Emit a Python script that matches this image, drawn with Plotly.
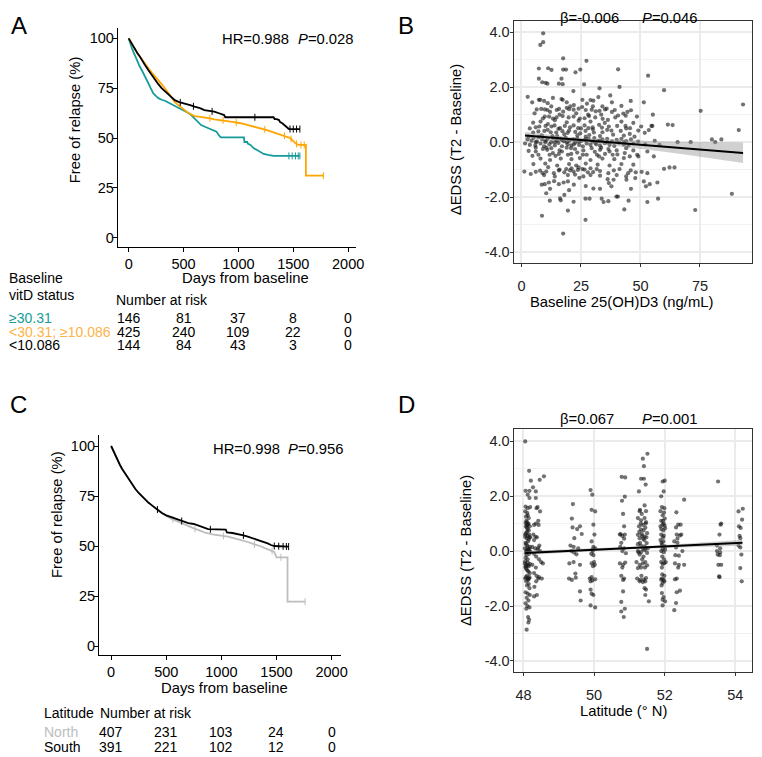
import numpy as np
import plotly.graph_objects as go

# page is shown with the default 8px body margin, so the figure is placed 8px in
OX, OY = 8, 8
FW, FH = 754, 749
FONT = "Liberation Sans, Arial, sans-serif"
FS = 14.8
FS_TABLE = 14

TEAL = "#169C98"
ORANGE = "#FFA500"
ORANGE_TXT = "#FDB448"
GREY = "#BDBDBD"

# -------------------------------------------------------------------------
# Data
# -------------------------------------------------------------------------
# A: Kaplan-Meier by baseline vitamin D (days, % free of relapse)
a_high_t = [0, 15, 30, 45, 60, 80, 100, 120, 140, 160, 180, 200, 225, 250, 270, 300, 330, 360, 390,
            420, 450, 480, 510, 540, 570, 600, 630, 660, 700, 735, 770, 800, 820, 840, 1050, 1055, 1080,
            1085, 1110, 1140, 1170, 1200, 1230, 1270, 1320, 1560]
a_high_s = [100, 97, 95, 93, 90.8, 88.5, 86, 84, 81.5, 79.5, 77.4, 75, 72.4, 71, 70, 69.2, 68.7, 67.8,
            67, 66.2, 65, 64.2, 63.5, 62.7, 61.5, 60, 58.5, 56.5, 55.5, 54.8, 54, 53.2, 51.5, 50.3, 50.3,
            48, 48, 47.2, 46.5, 44.8, 44, 43, 42, 41.5, 41, 41]
a_mid_t = [0, 20, 45, 70, 90, 120, 150, 180, 210, 240, 270, 300, 330, 360, 390, 420, 450, 480, 510,
           540, 570, 600, 640, 690, 740, 780, 840, 900, 960, 1020, 1080, 1140, 1200, 1260, 1300, 1350,
           1400, 1440, 1470, 1490, 1520, 1550, 1615, 1615, 1775]
a_mid_s = [100, 98, 95.5, 93, 91.6, 89.5, 87, 85, 82.8, 81, 79, 77, 75, 73, 70.5, 68, 66.5, 65.4, 64,
           62.7, 61.8, 61, 60.7, 60.4, 59.9, 59.4, 59, 58.7, 58, 57.4, 56.6, 55.7, 55, 54, 53.2, 52.3,
           51.5, 50.7, 50, 49, 47.3, 46.5, 46.5, 31.1, 31.1]
a_low_t = [0, 20, 40, 60, 80, 100, 120, 150, 180, 210, 240, 270, 300, 330, 360, 390, 420, 460, 510,
           560, 600, 650, 690, 740, 780, 830, 870, 880, 1320, 1330, 1350, 1370, 1380, 1400, 1430, 1460, 1560]
a_low_s = [100, 98, 96, 94, 92.5, 91, 89, 86.5, 84, 81.5, 79, 77, 75, 73.5, 72.4, 71, 69, 68, 67.4,
           66.5, 65.7, 65, 64, 63.5, 63.2, 62.3, 61.5, 60.4, 60.4, 59.5, 59.5, 59, 58, 57.4, 55.7, 54.5, 54.5]
a_high_cens = [1460, 1490, 1520, 1545, 1560]
a_mid_cens = [740, 860, 980, 1240, 1420, 1480, 1530, 1570, 1600, 1775]
a_low_cens = [470, 590, 760, 1150, 1470, 1500, 1530, 1560]

risk_days = [0, 500, 1000, 1500, 2000]
a_groups = ["≥30.31", "<30.31; ≥10.086", "<10.086"]
a_risk_high = [146, 81, 37, 8, 0]
a_risk_mid = [425, 240, 109, 22, 0]
a_risk_low = [144, 84, 43, 3, 0]

# C: Kaplan-Meier by latitude
c_north_t = [0, 20, 40, 60, 80, 100, 130, 160, 190, 220, 250, 280, 310, 340, 370, 400, 430, 460, 500,
             540, 580, 620, 660, 700, 750, 800, 860, 920, 1000, 1060, 1120, 1180, 1240, 1300, 1350, 1400,
             1440, 1480, 1500, 1600, 1600, 1760]
c_north_s = [100, 97.5, 95, 92.5, 90.5, 88.5, 86, 83.5, 80.8, 78.5, 76.5, 74.8, 73, 71.6, 70.3, 69, 67.8,
             66.5, 65, 63.8, 62.8, 61.8, 61, 59.8, 58.8, 57.8, 56.5, 55.8, 55.2, 54.7, 53.8, 53, 52, 50.8,
             50, 48.8, 48, 47, 44.3, 44.3, 22.2, 22.2]
c_south_t = [0, 20, 40, 60, 80, 100, 130, 160, 190, 220, 250, 280, 310, 340, 370, 400, 430, 460, 500,
             540, 580, 620, 660, 700, 750, 790, 830, 880, 1040, 1050, 1100, 1150, 1200, 1240, 1280, 1330,
             1380, 1420, 1450, 1480, 1610]
c_south_s = [100, 97.5, 95, 92.5, 90.5, 88.5, 86, 83.5, 80.8, 78.5, 76.5, 74.8, 73, 71.6, 70.3, 69, 67.8,
             66.5, 65.3, 64.5, 63.6, 62.8, 62.2, 61.4, 61, 60.1, 59.4, 58.4, 58.2, 56.8, 56.5, 56, 55.3,
             54.7, 54, 53.2, 52.3, 51.3, 50.5, 50, 49.7]
c_north_cens = [560, 760, 1020, 1300, 1460, 1540, 1760]
c_south_cens = [420, 640, 900, 1200, 1480, 1520, 1560, 1590, 1610]
c_groups = ["North", "South"]
c_risk_north = [407, 231, 103, 24, 0]
c_risk_south = [391, 221, 102, 12, 0]

# B: baseline 25(OH)D3 vs change in EDSS
b_top = [(9.1, 3.96), (9.1, 3.64), (7.9, 3.54), (17.5, 3.05), (27.3, 2.96), (7.3, 2.68), (11.2, 2.69),
         (12.6, 2.63), (17.5, 2.64), (18.7, 2.64), (24.7, 2.64), (22.7, 2.54), (40.6, 2.65), (53.2, 2.42),
         (7.3, 2.31), (8.7, 2.18), (10.1, 2.16), (10.9, 2.13), (15.7, 2.13), (16.8, 2.31), (17.3, 2.11),
         (26.3, 2.10), (32.8, 1.96), (41.2, 2.01), (59.9, 1.89), (2.6, 1.65), (7.3, 1.54), (7.9, 1.54),
         (13.2, 1.61), (16.8, 1.57), (21.8, 1.86), (17.3, 1.54), (25.6, 1.54), (29.0, 1.53), (30.2, 1.51),
         (32.3, 1.64), (37.3, 1.70), (45.9, 1.50), (51.4, 1.45), (75.3, 1.14), (93.1, 1.37),
         (4.5, 1.45), (9.5, 1.5), (11.0, 1.42), (19.0, 1.45), (22.0, 1.35), (27.5, 1.4), (34.0, 1.3),
         (38.0, 1.45), (42.0, 1.32), (12.5, 1.3), (20.5, 1.3), (30.0, 1.3)]
b_one = [(6.4, 1.19), (8.3, 1.21), (9.8, 1.19), (10.9, 1.17), (14.8, 1.17), (15.8, 1.21), (17.5, 1.11),
         (20.0, 1.2), (21.9, 1.18), (24.0, 1.22), (27.0, 1.17), (29.5, 1.18), (31.2, 1.12), (32.8, 1.14),
         (35.1, 1.19), (35.8, 1.22), (39.2, 1.17), (42.8, 1.04), (43.8, 0.96), (46.0, 1.16), (55.2, 1.0),
         (9.0, 0.86), (9.8, 0.93), (11.6, 0.93), (13.2, 0.86), (14.7, 0.9), (17.3, 0.95), (19.8, 0.9),
         (21.9, 0.93), (24.5, 0.86), (26.5, 0.87), (28.4, 0.95), (31.0, 0.9), (34.1, 0.85), (36.3, 0.81),
         (39.4, 0.9), (40.6, 0.97), (48.5, 0.93)]
b_half = [(4.9, 0.71), (6.0, 0.54), (7.5, 0.57), (10.1, 0.59), (11.1, 0.66), (12.6, 0.57), (13.9, 0.61),
          (16.2, 0.51), (18.2, 0.59), (20.4, 0.54), (21.9, 0.61), (23.8, 0.51), (26.5, 0.61), (28.1, 0.51),
          (29.9, 0.54), (32.6, 0.63), (33.8, 0.53), (36.7, 0.57), (40.2, 0.59), (43.7, 0.59), (45.6, 0.51),
          (50.3, 0.57), (53.5, 0.44), (54.6, 0.59), (61.5, 0.64), (63.5, 0.62), (91.3, 0.44),
          (4.9, 0.35), (7.1, 0.39), (9.6, 0.41), (12.3, 0.36), (14.6, 0.35), (17.2, 0.4), (19.4, 0.34),
          (22.6, 0.37), (24.7, 0.32), (26.9, 0.41), (30.4, 0.35), (34.0, 0.36), (37.8, 0.42), (41.7, 0.41),
          (45.5, 0.3), (49.1, 0.42), (51.8, 0.34), (55.0, 0.59)]
b_zero = [(1.5, -0.05), (2.5, 0.1), (3.5, -0.1), (4.2, 0.05), (5.0, 0.15), (5.8, -0.12), (6.5, 0.02),
          (7.2, 0.18), (8.0, -0.05), (8.7, 0.1), (9.5, -0.15), (10.2, 0.05), (11.0, 0.12), (11.7, -0.08),
          (12.5, 0.0), (13.3, 0.15), (14.0, -0.12), (14.8, 0.06), (15.5, -0.03), (16.3, 0.12), (17.0, -0.15),
          (17.8, 0.03), (18.6, 0.16), (19.4, -0.08), (20.2, 0.05), (21.0, -0.12), (21.8, 0.1), (22.6, -0.02),
          (23.4, 0.14), (24.2, -0.1), (25.0, 0.04), (25.8, -0.15), (26.6, 0.08), (27.4, -0.05), (28.2, 0.12),
          (29.0, -0.1), (29.8, 0.02), (30.6, 0.15), (31.4, -0.08), (32.2, 0.05), (33.0, -0.13), (34.0, 0.1),
          (35.0, -0.04), (36.0, 0.12), (37.0, -0.1), (38.0, 0.03), (39.0, -0.14), (40.0, 0.08), (41.0, -0.02),
          (42.0, 0.12), (43.0, -0.09), (44.0, 0.04), (45.0, -0.12), (46.0, 0.1), (47.0, -0.05), (49.0, 0.02),
          (52.0, -0.08), (56.0, 0.05), (58.0, -0.1), (65.6, 0.0), (71.1, 0.0), (80.0, 0.1), (81.4, 0.0),
          (84.0, 0.1), (3.0, 0.2), (10.5, -0.2), (15.0, 0.22), (20.8, -0.22), (27.0, 0.2), (33.5, -0.2)]
b_neg = [(3.0, -0.32), (4.6, -0.50), (6.0, -0.34), (7.1, -0.46), (10.8, -0.28), (11.8, -0.46), (13.2, -0.40),
         (14.3, -0.50), (15.7, -0.43), (17.0, -0.34), (19.5, -0.46), (20.9, -0.43), (23.4, -0.38), (25.8, -0.46),
         (27.4, -0.46), (30.8, -0.35), (31.7, -0.46), (32.6, -0.52), (35.1, -0.43), (37.0, -0.34), (38.3, -0.46),
         (40.3, -0.45), (43.4, -0.40), (45.5, -0.52), (48.6, -0.46), (49.1, -0.52), (52.9, -0.34), (55.6, -0.52),
         (1.2, -1.07), (3.9, -1.16), (6.0, -1.08), (7.8, -1.04), (8.9, -1.13), (10.4, -1.07), (11.2, -0.91),
         (13.6, -1.13), (15.7, -1.03), (18.0, -1.10), (18.8, -0.98), (20.4, -1.03), (21.9, -1.07), (23.7, -1.01),
         (25.6, -0.98), (27.9, -1.10), (30.1, -1.09), (31.6, -0.98), (36.5, -1.13), (38.8, -1.03), (41.2, -0.98),
         (44.8, -1.13), (45.9, -1.03), (48.0, -1.10), (50.5, -1.08), (52.9, -1.13), (59.9, -0.97), (62.2, -0.92),
         (64.3, -0.92),
         (8.5, -1.55), (9.8, -1.53), (11.5, -1.47), (13.7, -1.42), (15.7, -1.53), (17.7, -1.47), (19.5, -1.43),
         (24.3, -1.30), (36.2, -1.35), (36.7, -1.49), (37.8, -1.61), (38.7, -1.37), (44.1, -1.37), (47.8, -1.31),
         (51.4, -1.43), (52.3, -1.61), (53.9, -1.53), (57.1, -1.47),
         (10.4, -1.86), (11.9, -2.13), (16.2, -2.05), (16.5, -2.12), (18.0, -1.92), (21.9, -2.17), (26.9, -2.06),
         (28.6, -2.06), (30.2, -1.69), (33.7, -2.06), (34.5, -2.18), (36.5, -2.15), (39.9, -1.98), (40.5, -1.98),
         (45.0, -2.13), (52.9, -2.18), (57.4, -2.06), (88.4, -1.88),
         (8.6, -2.68), (19.5, -2.49), (43.2, -2.45), (73.0, -2.47), (26.9, -2.83), (17.5, -3.33)]
b_dense = [(5.5, 1.05), (12, 1.1), (16, 1.0), (23, 1.05), (28, 1.0), (33.5, 1.0), (38, 1.1), (44.5, 1.1),
           (19, 1.25), (25.5, 1.28), (8, 0.75), (14, 0.8), (19, 0.72), (24, 0.78), (29, 0.75), (35, 0.7),
           (42, 0.75), (47, 0.7), (11, 0.45), (15.5, 0.48), (20, 0.42), (25, 0.5), (30, 0.47), (36, 0.45),
           (44, 0.5), (3.5, 0.5), (8.5, 0.25), (13, 0.22), (18, 0.28), (23.5, 0.25), (28.5, 0.26), (33, 0.22),
           (38.5, 0.27), (43, 0.24), (47.5, 0.2), (6, -0.2), (9, -0.25), (12.5, -0.22), (16, -0.3), (19, -0.2),
           (22.5, -0.25), (26, -0.3), (29.5, -0.22), (33, -0.28), (36.5, -0.25), (40, -0.3), (44, -0.22),
           (47, -0.3), (8, -0.6), (12, -0.65), (16.5, -0.6), (21, -0.62), (24.5, -0.58), (29, -0.65), (34, -0.6),
           (39, -0.62), (43, -0.58), (5, -0.8), (10, -0.78), (15, -0.85), (20, -0.8), (23, -0.85), (27, -0.78),
           (32, -0.82), (37, -0.85), (42, -0.8), (47, -0.82), (9.5, -1.2), (14, -1.25), (19.5, -1.2),
           (22.5, -1.18), (26, -1.25), (29, -1.2), (33, -1.22), (40, -1.2), (44, -1.25), (16, -1.0), (21, -0.95),
           (24, -0.92), (26.5, -1.0), (29, -0.95), (33, -1.05), (12, -1.7), (20, -1.75), (27, -1.6), (33, -1.7),
           (46, -1.7), (22, -1.55), (14, 0.0), (19, 0.0), (24, 0.02), (31, -0.02), (36, 0.0), (43, 0.0), (6, 0.0),
           (10, 0.0), (17, 0.08), (22, -0.08), (27, 0.1), (33, 0.06)]
b_fit_x = [1.5, 10, 20, 30, 40, 50, 60, 70, 80, 93.1]
b_fit_y = [0.24, 0.181, 0.112, 0.043, -0.026, -0.095, -0.164, -0.233, -0.302, -0.392]
b_fit_lo = [0.11, 0.084, 0.034, -0.043, -0.139, -0.245, -0.354, -0.468, -0.582, -0.762]
b_fit_hi = [0.37, 0.278, 0.19, 0.129, 0.087, 0.055, 0.026, 0.002, -0.012, -0.012]

# D: latitude vs change in EDSS
d_481 = [(48.05, 3.99), (48.16, 2.92), (48.06, 2.19), (48.17, 2.19), (48.12, 2.05), (48.17, 1.93),
         (48.06, 1.62), (48.12, 1.56), (48.19, 1.6), (48.05, 1.44), (48.11, 1.38), (48.08, 1.1), (48.15, 1.2),
         (48.06, 1.02), (48.13, 0.96), (48.18, 0.9), (48.09, 0.85), (48.05, 0.6), (48.12, 0.55), (48.17, 0.5),
         (48.09, 0.47), (48.15, 0.42), (48.06, 0.3), (48.11, 0.2), (48.18, 0.15), (48.04, 0.1), (48.14, 0.05),
         (48.08, 0.0), (48.19, -0.02), (48.1, -0.05), (48.16, -0.1), (48.05, -0.38), (48.12, -0.42),
         (48.18, -0.47), (48.08, -0.5), (48.15, -0.55), (48.06, -0.6), (48.1, -0.9), (48.17, -0.95),
         (48.05, -1.0), (48.13, -1.05), (48.08, -1.1), (48.15, -1.2), (48.06, -1.5), (48.12, -1.55),
         (48.18, -1.6), (48.09, -1.7), (48.14, -1.8), (48.06, -1.9), (48.11, -2.0), (48.17, -2.05),
         (48.08, -2.1), (48.13, -2.4), (48.16, -2.5), (48.14, -2.6), (48.09, -2.86), (48.12, 0.8),
         (48.07, 0.65), (48.11, -0.7), (48.18, -0.8), (48.07, 0.9), (48.14, 1.0), (48.04, -0.45), (48.19, 0.5),
         (48.1, 0.95), (48.16, -1.0), (48.05, 0.52), (48.13, -0.52), (48.09, 0.02), (48.17, 0.08), (48.07, -0.08),
         (48.07, 0.25), (48.13, 0.35), (48.1, 0.7), (48.15, 0.75), (48.06, -0.25), (48.12, -0.3), (48.08, -0.65),
         (48.14, -0.75), (48.1, -1.25), (48.17, -1.35), (48.07, 1.25), (48.12, 1.3), (48.09, -0.15), (48.15, 0.0),
         (48.11, 0.12), (48.06, -0.55), (48.13, -1.0), (48.1, 1.05), (48.16, 0.6), (48.07, -0.95)]
d_484 = [(48.21, 2.56), (48.27, 2.32), (48.35, 2.17), (48.46, 2.59), (48.58, 2.72), (48.35, 1.93),
         (48.47, 1.44), (48.37, 1.56), (48.4, 1.6), (48.35, 1.0), (48.42, 1.1), (48.3, 0.95), (48.28, 0.6),
         (48.38, 0.5), (48.25, 0.15), (48.33, 0.1), (48.4, 0.05), (48.47, 0.0), (48.3, -0.1), (48.36, -0.2),
         (48.44, -0.3), (48.5, -0.4), (48.55, -0.45), (48.3, -0.8), (48.37, -0.9), (48.44, -0.95), (48.52, -1.0),
         (48.36, -1.1), (48.31, -1.3), (48.38, -1.6), (48.3, -1.65), (48.42, 0.12), (48.25, -0.5), (48.34, 0.52),
         (48.43, 0.95), (48.35, -0.6), (48.42, -1.0), (48.3, 0.4), (48.45, 0.2)]
d_495 = [(49.4, 1.71), (49.37, 1.18), (49.39, 0.86), (49.44, 0.47), (49.6, 0.9), (49.65, 0.62), (49.52, 0.8),
         (49.33, 0.2), (49.42, 0.15), (49.55, 0.1), (49.3, -0.45), (49.42, -0.4), (49.6, -0.5), (49.29, -1.0),
         (49.37, -1.05), (49.48, -0.97), (49.6, -1.47), (49.62, -1.8), (49.47, -0.82), (49.36, 0.0),
         (49.43, -0.05), (49.5, -0.12)]
d_500 = [(49.9, 2.22), (49.95, 2.05), (49.93, 1.5), (50.03, 1.44), (49.98, 0.96), (50.01, 0.6), (49.93, 0.35),
         (49.98, 0.15), (50.03, 0.1), (49.92, -0.1), (49.98, -0.15), (49.93, -0.45), (50.0, -0.4), (49.88, -1.0),
         (49.95, -1.07), (50.03, -1.03), (49.9, -1.1), (49.9, -1.4), (49.93, -1.55), (49.98, -1.6), (49.9, -1.98),
         (50.03, -2.05), (49.96, 0.0), (50.02, -0.5), (49.95, 0.05), (49.97, -0.55), (49.93, -0.95)]
d_508 = [(50.78, 2.7), (50.88, 2.68), (50.87, 1.98), (50.79, 1.83), (50.82, 1.35), (50.85, 0.9), (50.73, 0.6),
         (50.8, 0.55), (50.87, 0.6), (50.77, 0.3), (50.74, 0.15), (50.85, 0.1), (50.73, -0.45), (50.82, -0.5),
         (50.88, -0.42), (50.77, -0.9), (50.85, -1.0), (50.82, -1.05), (50.82, -1.47), (50.77, -1.85),
         (50.77, -2.2), (50.87, -2.1), (50.84, -2.4), (50.8, 0.0), (50.9, -0.08), (50.75, 0.62), (50.85, 0.45),
         (50.8, -0.6)]
d_514 = [(51.38, 3.36), (51.51, 3.54), (51.41, 3.09), (51.33, 2.63), (51.41, 2.63), (51.46, 2.42), (51.27, 2.17),
         (51.43, 1.66), (51.29, 1.45), (51.35, 1.35), (51.47, 1.45), (51.24, 1.2), (51.33, 1.12), (51.43, 1.2),
         (51.47, 1.05), (51.27, 0.9), (51.38, 0.95), (51.45, 0.85), (51.33, 0.78), (51.24, 0.59), (51.35, 0.62),
         (51.43, 0.53), (51.5, 0.65), (51.29, 0.47), (51.39, 0.45), (51.24, 0.25), (51.33, 0.2), (51.43, 0.17),
         (51.49, 0.29), (51.38, 0.08), (51.24, 0.0), (51.33, -0.04), (51.43, 0.03), (51.5, -0.07), (51.29, -0.13),
         (51.2, -0.4), (51.29, -0.5), (51.38, -0.45), (51.45, -0.4), (51.5, -0.52), (51.33, -0.6), (51.24, -0.62),
         (51.22, -1.0), (51.31, -1.05), (51.41, -1.04), (51.47, -0.98), (51.38, -1.13), (51.29, -1.1),
         (51.43, -1.35), (51.45, -1.6), (51.47, -1.4), (51.55, -1.83), (51.5, -3.56), (51.36, 0.55), (51.4, -0.2),
         (51.46, 1.0), (51.3, 1.5), (51.52, 0.1), (51.3, 0.3), (51.42, 0.4), (51.36, -0.3), (51.44, -0.6),
         (51.28, 0.7), (51.4, 0.75), (51.34, -0.9), (51.45, -1.1), (51.32, 1.0), (51.48, 0.5), (51.26, -0.05),
         (51.46, 0.1)]
d_520 = [(51.94, 2.53), (52.0, 2.56), (51.97, 2.17), (51.9, 1.99), (51.92, 1.6), (51.99, 1.56), (51.88, 1.45),
         (51.94, 1.3), (52.0, 1.18), (51.9, 1.1), (51.97, 1.0), (52.0, 0.92), (51.88, 0.9), (51.94, 0.96),
         (52.01, 0.83), (51.9, 0.6), (51.97, 0.56), (51.88, 0.4), (51.92, 0.23), (52.0, 0.17), (51.94, 0.08),
         (51.9, 0.0), (51.97, -0.04), (52.01, 0.05), (51.9, -0.4), (51.94, -0.47), (51.99, -0.44), (52.03, -0.4),
         (51.92, -1.0), (51.97, -1.05), (51.99, -1.1), (51.9, -1.04), (51.94, -1.16), (51.92, -1.53),
         (51.97, -1.68), (52.01, -1.83), (51.94, -1.98), (51.94, -1.77), (51.95, 0.5), (51.92, -0.6), (51.98, 1.4),
         (51.91, 0.3), (51.96, 0.35), (51.93, -0.2), (51.98, -0.3), (51.9, 0.8), (51.96, 0.75), (51.93, -0.85),
         (51.99, -0.9), (51.95, 1.1), (51.91, -1.25)]
d_524 = [(52.55, 1.87), (52.33, 1.41), (52.38, 0.96), (52.45, 0.96), (52.32, 0.86), (52.34, 0.6), (52.43, 0.57),
         (52.27, 0.35), (52.36, 0.3), (52.32, 0.13), (52.3, -0.15), (52.4, -0.17), (52.29, -0.45), (52.4, -0.5),
         (52.55, -0.5), (52.34, -1.0), (52.29, -1.03), (52.34, -1.5), (52.43, -1.44), (52.32, -1.89),
         (52.27, -2.15), (52.47, 0.6), (52.5, 0.0), (52.36, 0.45), (52.38, -0.6)]
d_535 = [(53.51, 2.53), (53.58, 0.96), (53.6, 1.0), (53.55, 0.6), (53.48, 0.2), (53.57, 0.1), (53.48, 0.0),
         (53.57, -0.05), (53.5, -0.13), (53.56, -0.15), (53.52, -0.5), (53.6, -0.5), (53.54, -0.92), (53.55, -0.95)]
d_541 = [(54.09, 1.44), (54.21, 1.54), (54.19, 1.14), (54.1, 0.9), (54.15, 0.84), (54.12, 0.55), (54.14, 0.47),
         (54.09, 0.2), (54.14, 0.13), (54.17, -0.13), (54.14, -0.62), (54.18, -1.1)]
d_fit_x = [48.05, 49, 50, 51, 52, 53, 54.2]
d_fit_y = [-0.07, -0.013, 0.047, 0.107, 0.167, 0.227, 0.299]
d_fit_lo = [-0.14, -0.068, 0.002, 0.062, 0.112, 0.152, 0.189]
d_fit_hi = [0.0, 0.042, 0.092, 0.152, 0.222, 0.302, 0.409]

b_pts = b_top + b_one + b_half + b_zero + b_neg + b_dense
d_pts = d_481 + d_484 + d_495 + d_500 + d_508 + d_514 + d_520 + d_524 + d_535 + d_541


# -------------------------------------------------------------------------
# Helpers (positions given in page pixels of the 762x757 window)
# -------------------------------------------------------------------------
def fx(px):
    return (px - OX) / FW


def fy(py):
    return 1 - (py - OY) / FH


def km(fig, t, s, cens, color, xa, ya):
    fig.add_trace(go.Scatter(x=t, y=s, mode="lines", line=dict(color=color, width=1.8),
                             xaxis=xa, yaxis=ya))
    fig.add_trace(go.Scatter(x=cens, y=np.interp(cens, t, s), mode="markers",
                             marker=dict(symbol="line-ns-open", size=5, color=color,
                                         line=dict(color=color, width=1)),
                             xaxis=xa, yaxis=ya))


def scatter_fit(fig, pts, x_fit, y_fit, lo, hi, xa, ya):
    fig.add_trace(go.Scatter(x=[p[0] for p in pts], y=[p[1] for p in pts], mode="markers",
                             marker=dict(size=4.2, color="rgba(20,20,20,0.6)"), xaxis=xa, yaxis=ya))
    fig.add_trace(go.Scatter(x=[*x_fit, *x_fit[::-1]], y=[*hi, *lo[::-1]], fill="toself",
                             fillcolor="rgba(150,150,150,0.45)", line=dict(width=0), mode="lines",
                             xaxis=xa, yaxis=ya))
    fig.add_trace(go.Scatter(x=x_fit, y=y_fit, mode="lines", line=dict(color="black", width=2),
                             xaxis=xa, yaxis=ya))


def txt(fig, text, x, y, size=FS, color="black", xanchor="center", angle=0, xref="paper"):
    fig.add_annotation(text=text, x=fx(x) if xref == "paper" else x, y=fy(y), xref=xref, yref="paper",
                       showarrow=False, xanchor=xanchor, yanchor="middle", textangle=angle,
                       font=dict(family=FONT, size=size, color=color))


# -------------------------------------------------------------------------
# Figure
# -------------------------------------------------------------------------
fig = go.Figure()

km(fig, a_high_t, a_high_s, a_high_cens, TEAL, "x", "y")
km(fig, a_mid_t, a_mid_s, a_mid_cens, ORANGE, "x", "y")
km(fig, a_low_t, a_low_s, a_low_cens, "black", "x", "y")
km(fig, c_north_t, c_north_s, c_north_cens, GREY, "x3", "y3")
km(fig, c_south_t, c_south_s, c_south_cens, "black", "x3", "y3")
scatter_fit(fig, b_pts, b_fit_x, b_fit_y, b_fit_lo, b_fit_hi, "x2", "y2")
scatter_fit(fig, d_pts, d_fit_x, d_fit_y, d_fit_lo, d_fit_hi, "x4", "y4")

km_ax = dict(showline=True, linecolor="black", linewidth=1.1, ticks="outside", ticklen=4, tickwidth=1.1,
             tickcolor="black", showgrid=False, zeroline=False, tickfont=dict(size=14.5, color="black"))
sc_ax = dict(showline=True, mirror=True, linecolor="#333333", linewidth=1, ticks="outside", ticklen=3,
             tickcolor="#333333", showgrid=True, gridcolor="#EBEBEB", gridwidth=1.5, zeroline=False,
             tickfont=dict(size=14.5, color="#222222"))
edss_ticks = dict(tickvals=[-4, -2, 0, 2, 4], ticktext=["-4.0", "-2.0", "0.0", "2.0", "4.0"],
                  minor=dict(tickvals=[-3, -1, 1, 3], showgrid=True, gridcolor="#F2F2F2", gridwidth=0.8),
                  ticklabelstandoff=-3)

fig.update_layout(
    width=FW, height=FH, margin=dict(l=0, r=0, t=0, b=0),
    paper_bgcolor="white", plot_bgcolor="white", showlegend=False,
    font=dict(family=FONT, size=FS, color="black"),
    xaxis=dict(**km_ax, domain=[fx(119), fx(360)], range=[-99, 2074], anchor="y", tickvals=risk_days),
    yaxis=dict(**km_ax, domain=[fy(247), fy(28)], range=[-4.7, 105.2], anchor="x",
               tickvals=[0, 25, 50, 75, 100], ticklabelstandoff=-4),
    xaxis2=dict(**sc_ax, domain=[fx(519), fx(760.3)], range=[-3.33, 97.0], anchor="y2",
                tickvals=[0, 25, 50, 75], ticklabelstandoff=7),
    yaxis2=dict(**sc_ax, **edss_ticks, domain=[fy(263), fy(21)], range=[-4.4, 4.41], anchor="x2"),
    xaxis3=dict(**km_ax, domain=[fx(100), fx(345)], range=[-110, 2089], anchor="y3", tickvals=risk_days),
    yaxis3=dict(**km_ax, domain=[fy(655), fy(435)], range=[-4.5, 105.5], anchor="x3",
                tickvals=[0, 25, 50, 75, 100], ticklabelstandoff=-4),
    xaxis4=dict(**sc_ax, domain=[fx(519), fx(760.3)], range=[47.72, 54.48], anchor="y4",
                tickvals=[48, 50, 52, 54], ticklabelstandoff=7),
    yaxis4=dict(**sc_ax, **edss_ticks, domain=[fy(671.7), fy(429.3)], range=[-4.39, 4.43], anchor="x4"),
)

# panel letters
txt(fig, "A", 19, 25, size=24)
txt(fig, "B", 410, 25, size=24)
txt(fig, "C", 19, 404, size=24)
txt(fig, "D", 411, 404, size=24)

# A texts
txt(fig, "HR=0.988", 222, 39, xanchor="left")
txt(fig, "<i>P</i>=0.028", 299, 39, xanchor="left")
txt(fig, "Free of relapse (%)", 76, 120, angle=-90)
txt(fig, "Days from baseline", 248, 278)
txt(fig, "Baseline", 7, 278, size=FS_TABLE, xanchor="left")
txt(fig, "vitD status", 7, 295, size=FS_TABLE, xanchor="left")
txt(fig, "Number at risk", 115, 300, size=FS_TABLE, xanchor="left")
for label, color, row, yy in zip(a_groups, [TEAL, ORANGE_TXT, "black"],
                                 [a_risk_high, a_risk_mid, a_risk_low], [318, 331.5, 345]):
    txt(fig, label, 7, yy, size=FS_TABLE, color=color, xanchor="left")
    for d, n in zip(risk_days, row):
        txt(fig, str(n), d, yy, size=FS_TABLE, xref="x")

# B texts
txt(fig, "β=-0.006", 595.5, 18)
txt(fig, "<i>P</i>=0.046", 677, 18)
txt(fig, "ΔEDSS (T2 - Baseline)", 461, 140, angle=-90)
txt(fig, "Baseline 25(OH)D3 (ng/mL)", 628, 302)

# C texts
txt(fig, "HR=0.998", 213, 449, xanchor="left")
txt(fig, "<i>P</i>=0.956", 289, 449, xanchor="left")
txt(fig, "Free of relapse (%)", 57.5, 514, angle=-90)
txt(fig, "Days from baseline", 227, 688)
txt(fig, "Latitude", 42, 713, size=FS_TABLE, xanchor="left")
txt(fig, "Number at risk", 99, 713, size=FS_TABLE, xanchor="left")
for label, color, row, yy in zip(c_groups, [GREY, "black"], [c_risk_north, c_risk_south], [731.5, 746.5]):
    txt(fig, label, 42, yy, size=FS_TABLE, color=color, xanchor="left")
    for d, n in zip(risk_days, row):
        txt(fig, str(n), d, yy, size=FS_TABLE, xref="x3")

# D texts
txt(fig, "β=0.067", 593, 419)
txt(fig, "<i>P</i>=0.001", 677.5, 419)
txt(fig, "ΔEDSS (T2 - Baseline)", 471, 551, angle=-90)
txt(fig, "Latitude (° N)", 630, 711)

fig.write_html("out.html")
